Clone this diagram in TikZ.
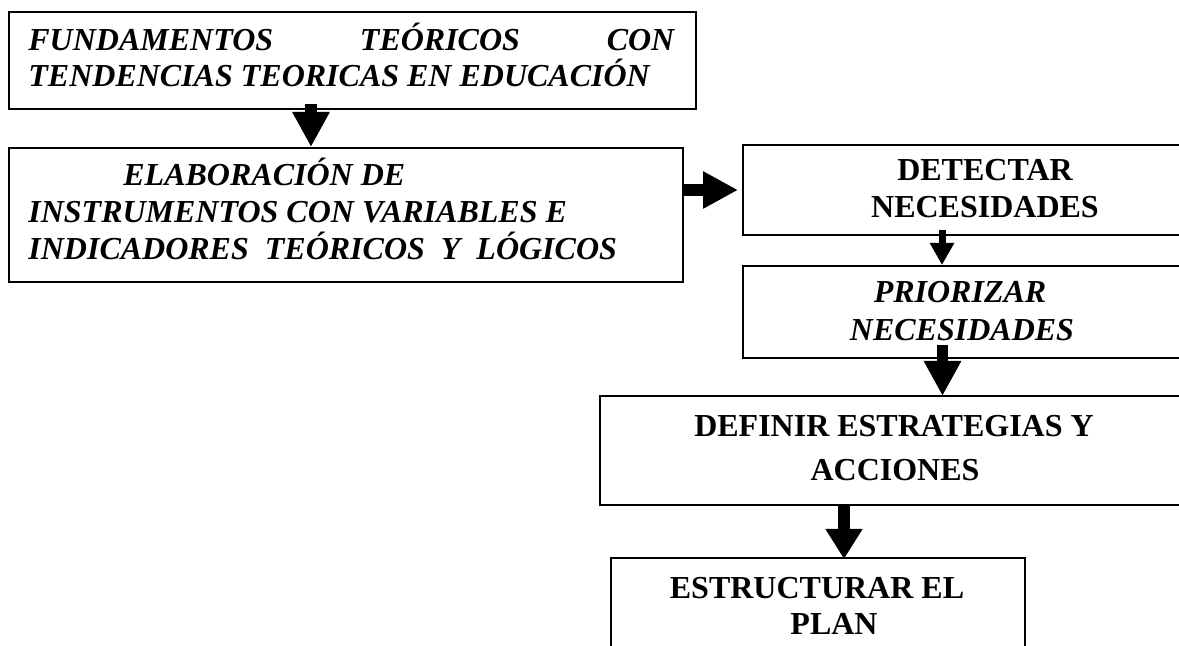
\documentclass[tikz,border=0pt]{standalone}
\usepackage{fontspec}
\setmainfont{Liberation Serif}
\usetikzlibrary{arrows.meta}
\begin{document}
\begin{tikzpicture}[x=0.5pt,y=-0.5pt,
  box/.style={draw, line width=1pt, anchor=north west, inner sep=0pt},
  bi/.style={font=\fontsize{16pt}{18pt}\selectfont\bfseries\itshape, inner sep=0pt},
  bu/.style={font=\fontsize{16pt}{18pt}\selectfont\bfseries, inner sep=0pt},
  bigarrow/.style={line width=6pt, -{Triangle[width=17.5pt,length=17.5pt]}},
  smallarrow/.style={line width=3.5pt, -{Triangle[width=11.5pt,length=11pt]}},
  midarrow/.style={line width=5.5pt, -{Triangle[width=17.5pt,length=17.5pt]}},
  lowarrow/.style={line width=6pt, -{Triangle[width=17.5pt,length=15pt]}}]
\useasboundingbox (0,0) rectangle (1179,646);
\clip (0,0) rectangle (1179,646);
% boxes
\node[box, minimum width=343.5pt, minimum height=48.5pt] (b1) at (8,11) {};
\node[box, minimum width=337pt, minimum height=67pt] (b2) at (8,147) {};
\node[box, minimum width=243pt, minimum height=45pt] (b3) at (742,144) {};
\node[box, minimum width=219.5pt, minimum height=46pt] (b4) at (742,265) {};
\node[box, minimum width=295.5pt, minimum height=54.5pt] (b5) at (599,395) {};
\node[box, minimum width=207pt, minimum height=71.5pt] (b6) at (610,557) {};
% texts
\node[bi, anchor=base west] (t1a) at (28,51) {\hbox to 323pt{FUNDAMENTOS\hfill TEÓRICOS\hfill CON}};
\node[bi, anchor=base west] (t1b) at (28,87) {TENDENCIAS TEORICAS EN EDUCACIÓN};
\node[bi, anchor=base west] (t2a) at (123,186) {ELABORACIÓN DE};
\node[bi, anchor=base west] (t2b) at (28,223) {INSTRUMENTOS CON VARIABLES E};
\node[bi, anchor=base west] (t2c) at (28,260) {INDICADORES\hspace*{0.5em}TEÓRICOS\hspace*{0.5em}Y\hspace*{0.5em}LÓGICOS};
\node[bu, anchor=base] (t3a) at (985,181) {DETECTAR};
\node[bu, anchor=base] (t3b) at (985,218) {NECESIDADES};
\node[bi, anchor=base] (t4a) at (960,303) {PRIORIZAR};
\node[bi, anchor=base] (t4b) at (962,341) {NECESIDADES};
\node[bu, anchor=base] (t5a) at (894,437) {DEFINIR ESTRATEGIAS Y};
\node[bu, anchor=base] (t5b) at (895,481) {ACCIONES};
\node[bu, anchor=base] (t6a) at (817,599) {ESTRUCTURAR EL};
\node[bu, anchor=base] (t6b) at (834,635) {PLAN};
% arrow guide coordinates
\coordinate (c1) at (311,0);
\coordinate (c2) at (0,190);
\coordinate (c3) at (942,0);
\coordinate (c4) at (942.5,0);
\coordinate (c5) at (844,0);
% connectors
\draw[bigarrow] ([yshift=3pt]b1.south -| c1) -- (b2.north -| c1);
\draw[bigarrow] (b2.east |- c2) -- ([xshift=-2pt]b3.west |- c2);
\draw[smallarrow] ([yshift=3pt]b3.south -| c3) -- (b4.north -| c3);
\draw[midarrow] ([yshift=7pt]b4.south -| c4) -- ([yshift=-0.5pt]b5.north -| c4);
\draw[lowarrow] (b5.south -| c5) -- ([yshift=-1pt]b6.north -| c5);
\end{tikzpicture}
\end{document}
